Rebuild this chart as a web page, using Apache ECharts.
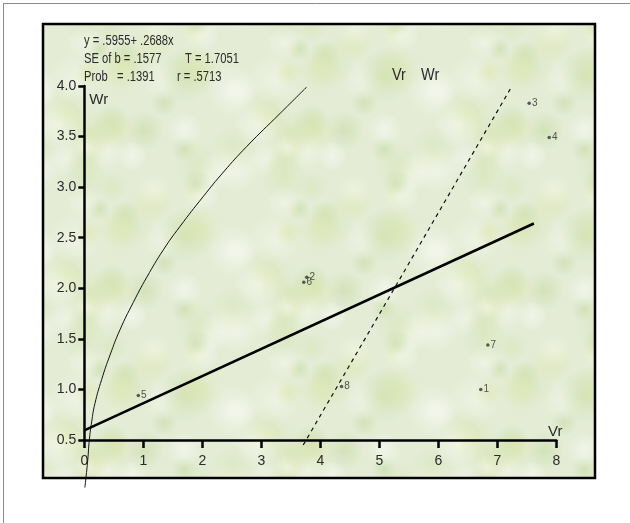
<!DOCTYPE html>
<html>
<head>
<meta charset="utf-8">
<script src="https://cdn.jsdelivr.net/npm/echarts@6/dist/echarts.min.js"></script>
<style>
html,body{margin:0;padding:0;background:#fff;}
#chart{width:630px;height:523px;}
</style>
</head>
<body>
<div id="chart"></div>
<script>
// ---- data ----
const xTicks = [0, 1, 2, 3, 4, 5, 6, 7, 8];
const yTicks = [0.5, 1.0, 1.5, 2.0, 2.5, 3.0, 3.5, 4.0];

const pointIds = ['1', '2', '3', '4', '5', '6', '7', '8'];
const pointVr  = [6.72, 3.77, 7.54, 7.88, 0.915, 3.72, 6.84, 4.36];
const pointWr  = [1.00, 2.11, 3.83, 3.49, 0.94, 2.06, 1.44, 1.03];

const regVr = [0, 7.62];
const regWr = [0.5955, 2.64];

const diagVr = [3.71, 7.22];
const diagWr = [0.45, 3.97];

const parabolaVr = [0.01, 0.058, 0.085, 0.125, 0.18, 0.295, 0.436, 0.605, 0.83, 1.06, 1.34, 1.62, 2.02, 2.36, 2.75, 3.32, 3.77];
const parabolaWr = [0.03, 0.30, 0.50, 0.68, 0.86, 1.10, 1.34, 1.59, 1.86, 2.11, 2.38, 2.61, 2.91, 3.15, 3.40, 3.73, 3.99];

const statLines = [
  ['y = .5955+ .2688x'],
  ['SE of b = .1577', 'T = 1.7051'],
  ['Prob', '= .1391', 'r = .5713']
];
const titleWords = ['Vr', 'Wr'];
const xName = 'Vr';
const yName = 'Wr';

const FONT = "'Liberation Sans', Arial, sans-serif";
const TXT = '#2b2b2b';

const toPairs = (xs, ys) => xs.map((x, i) => [x, ys[i]]);

// ---- decorative soft leafy background texture (deterministic) ----
function makeTexture() {
  const c = document.createElement('canvas');
  c.width = 200; c.height = 160;
  const g = c.getContext('2d');
  g.fillStyle = '#e4ecd6';
  g.fillRect(0, 0, c.width, c.height);
  const h = n => { const s = Math.sin(n * 12.9898) * 43758.5453; return s - Math.floor(s); };
  const cols = [[196, 218, 160], [252, 253, 248], [214, 228, 180], [246, 248, 236], [220, 230, 170]];
  for (let i = 0; i < 40; i++) {
    const x = h(i + 1) * c.width, y = h(i + 101) * c.height;
    const r = 10 + h(i + 201) * 18;
    const col = cols[i % cols.length];
    for (const dx of [-c.width, 0, c.width]) for (const dy of [-c.height, 0, c.height]) {
      const gr = g.createRadialGradient(x + dx, y + dy, 0, x + dx, y + dy, r);
      gr.addColorStop(0, 'rgba(' + col + ',0.55)');
      gr.addColorStop(1, 'rgba(' + col + ',0)');
      g.fillStyle = gr;
      g.beginPath();
      g.arc(x + dx, y + dy, r, 0, Math.PI * 2);
      g.fill();
    }
  }
  return c;
}

const chart = echarts.init(document.getElementById('chart'), null, {renderer: 'canvas'});

const statX = [[84], [84, 185], [84, 117, 177]];
const statY = [41.5, 59.5, 77.5];
const graphics = [
  {type: 'line', shape: {x1: 3, y1: 3.5, x2: 630, y2: 3.5}, style: {stroke: '#8a8a8a', lineWidth: 1}, z: 0},
  {type: 'line', shape: {x1: 3.5, y1: 3, x2: 3.5, y2: 523}, style: {stroke: '#8a8a8a', lineWidth: 1}, z: 0},
  {type: 'rect', shape: {x: 43, y: 24, width: 552, height: 454},
    style: {fill: {image: makeTexture(), repeat: 'repeat'}, stroke: '#000', lineWidth: 2.5}, z: -5}
];
statLines.forEach((line, li) => {
  line.forEach((t, ti) => {
    graphics.push({type: 'text', x: statX[li][ti], y: statY[li], z: 5, scaleX: 0.8,
      style: {text: t, font: '14px ' + FONT, fill: TXT, verticalAlign: 'middle', align: 'left'}});
  });
});
const titleX = [392, 421];
titleWords.forEach((t, i) => {
  graphics.push({type: 'text', x: titleX[i], y: 75, z: 5, scaleX: 0.85,
    style: {text: t, font: '17px ' + FONT, fill: TXT, verticalAlign: 'middle', align: 'left'}});
});

chart.setOption({
  animation: false,
  backgroundColor: '#ffffff',
  grid: {left: 84.3, right: 73.7, top: 86, bottom: 83, containLabel: false},
  graphic: graphics,
  xAxis: {
    type: 'value', min: xTicks[0], max: xTicks[xTicks.length - 1], interval: 1,
    name: xName, nameLocation: 'end', nameGap: -1,
    nameTextStyle: {fontFamily: FONT, fontSize: 15, color: TXT, align: 'center', verticalAlign: 'bottom', padding: [0, 0, 1, 0]},
    axisLine: {show: true, onZero: false, lineStyle: {color: '#000', width: 2.5}},
    axisTick: {show: true, inside: false, length: 8, lineStyle: {color: '#000', width: 2.5}},
    axisLabel: {margin: 14, fontFamily: FONT, fontSize: 14, color: TXT},
    splitLine: {show: false}
  },
  yAxis: {
    type: 'value', min: yTicks[0], max: yTicks[yTicks.length - 1], interval: 0.5,
    name: yName, nameLocation: 'end', nameGap: -14,
    nameTextStyle: {fontFamily: FONT, fontSize: 15, color: TXT, align: 'left', verticalAlign: 'middle', padding: [0, 0, 0, 5]},
    axisLine: {show: true, onZero: false, lineStyle: {color: '#000', width: 2.5}},
    axisTick: {show: true, inside: false, length: 6, lineStyle: {color: '#000', width: 2.5}},
    axisLabel: {margin: 8, fontFamily: FONT, fontSize: 14, color: TXT, padding: [6, 0, 0, 0],
      formatter: v => v.toFixed(1)},
    splitLine: {show: false}
  },
  series: [
    {
      type: 'line', data: toPairs(parabolaVr, parabolaWr), smooth: 0.5,
      showSymbol: false, clip: false,
      lineStyle: {color: '#111', width: 1}, z: 3
    },
    {
      type: 'line', data: toPairs(regVr, regWr), showSymbol: false, clip: false,
      lineStyle: {color: '#000', width: 2.6}, z: 4
    },
    {
      type: 'line', data: toPairs(diagVr, diagWr), showSymbol: false, clip: false,
      lineStyle: {color: '#111', width: 1.2, type: [4, 4]}, z: 3
    },
    {
      type: 'scatter', symbol: 'circle', symbolSize: 3.5,
      data: pointVr.map((x, i) => ({value: [x, pointWr[i]], name: pointIds[i]})),
      itemStyle: {color: '#333'},
      label: {show: true, position: 'right', distance: 1, formatter: p => p.name,
        fontFamily: FONT, fontSize: 10, color: TXT},
      z: 6
    }
  ]
});
</script>
</body>
</html>
